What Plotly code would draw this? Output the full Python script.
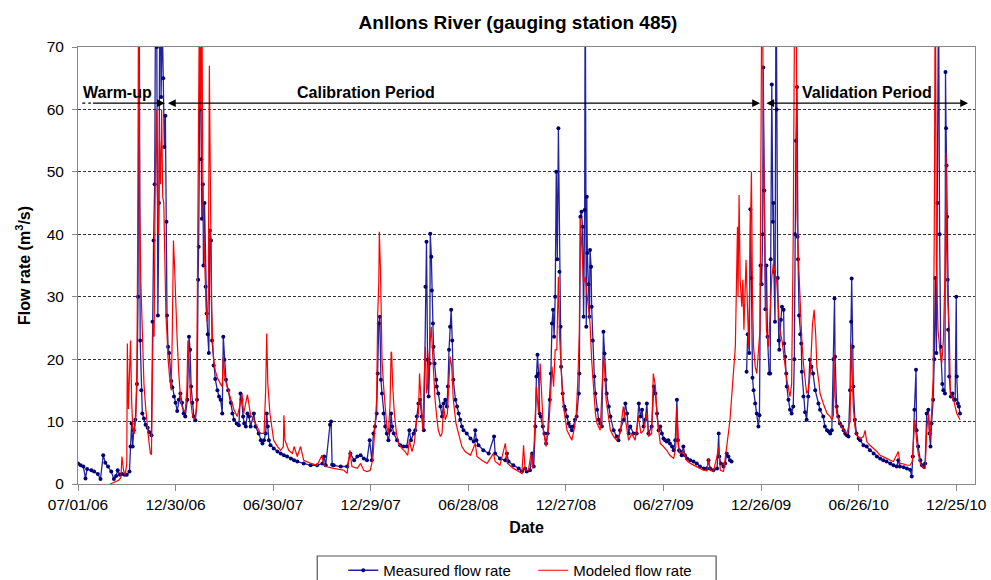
import pandas as pd
import plotly.graph_objects as go

# ---------------- data ----------------
start_date = "2006-07-01"

# (day offset from 07/01/06, measured flow m3/s); None = missing record
measured_points = [
 (0,3.3),(5,3.0),(10,2.8),(14,0.9),(17,2.4),(25,2.2),(30,2.0),(37,1.6),(42,0.8),(47,4.6),(51,3.4),(56,2.8),(62,2.0),(67,0.8),(71,1.3),(74,2.2),(78,1.5),(82,1.6),(87,1.5),(91,1.5),(96,2.0),(98,6.0),(100,9.7),(102,6.0),(104,8.6),(107,10.3),(110,16),(112,30),(114,85),(116,23),(118,15),(120,11.3),(123,10.5),(126,9.5),(130,9.0),(133,8.3),(137,7.8),
 (139,26),(141,39),(143,48),(145,85),(147,70),(149,27),(151,45),(153,90),(155,62),(157,75),(159,65),(161,54),(163,59),(165,42),(166,27),(168,22),(170,21),(174,16.5),(176,15.5),(179,14),(182,13),(185,11.7),(188,13.5),(191,14.5),(194,13),(197,11.3),(200,10.8),(204,13.5),(207,23.6),(209,21.5),(211,15.6),(213,13),(216,10.8),(219,10.2),(222,13.5),(224,32.7),(225,38),(227,60),(228,90),(230,52),(231,42.5),(233,48),(234,35),(236,45),(238,31.6),(240,27.3),(242,24),(244,21),(246,40.6),(248,39),(250,23),(253,19),(256,16.8),(260,15),(263,14),(266,13.5),(269,11.3),(271,23.6),(273,19.9),(276,16.7),(280,15),(285,13),(288,11.3),(291,10.3),(296,9.7),(300,9.4),(303,14.5),(305,13.5),(308,10.8),(310,9.7),(313,9.2),(316,11.3),(319,10.8),(322,9.2),(328,11.3),(331,9.2),(337,8.1),(341,7.0),(344,6.5),(347,7.0),(350,8.1),(352,11.3),(354,9.2),(356,7.0),(359,6.2),(365,5.7),(372,5.2),(378,4.9),(384,4.6),(390,4.4),(397,4.1),(403,3.8),(409,3.6),(421,3.3),(434,3.0),(446,3.0),(456,3.3),(459,4.4),(462,3.0),(470,9.5),(472,10.0),(474,3.1),(477,3.0),(490,2.8),(502,2.8),(508,4.9),(515,3.8),(521,4.4),(527,4.6),(533,4.1),(539,3.8),(544,7.0),
 (548,3.8),(551,8.1),(554,9.2),(557,11.3),(559,17.7),(561,25.7),(563,26.8),(565,16.7),(567,14.5),(570,11.3),(573,9.2),(576,8.1),(579,7.0),(582,8.6),(584,11.3),(586,9.2),(589,8.1),(595,7.0),(601,6.2),(607,6.0),(613,6.0),(618,8.6),(621,7.0),(626,8.1),(629,8.6),(632,10.8),(635,12.9),(638,13.5),(641,10.8),(645,8.6),(648,31.6),(650,38.8),(652,19.9),(654,14),(656,19.3),(657,40.1),(659,36.4),(660,31),(662,25.7),(663,22),(665,19.3),(668,16.7),(669,15.6),(672,14.5),(676,12.4),(679,10.8),(682,12.9),(685,13.5),(688,12.4),(690,15.6),(692,21.5),(694,25.2),(696,27.9),(698,23),(700,16.7),(704,13.5),(707,12.4),(710,11.3),(713,10.3),(716,9.2),(719,8.6),(725,8.1),(732,7.3),(738,6.8),(741,8.6),(743,7.0),(747,6.2),(756,5.4),(766,4.9),(776,7.6),(778,4.9),(787,4.1),(797,3.8),(800,4.9),(803,3.6),(812,3.0),(822,2.5),(828,2.0),(834,2.5),(837,2.0),(843,2.2),(847,4.9),(850,2.8),(853,9.2),(855,17.2),(857,20.7),(859,17.7),(861,11.3),(863,10.8),(867,9.2),(870,8.1),(873,6.5),(876,8.1),(880,13.5),(882,17.7),(884,25.7),(886,27.9),(888,23.6),(890,30),(892,50),(894,36),(896,57),(898,34),(900,25.2),(901,18.8),(904,14.5),(907,12.4),(909,11.9),(912,10.8),(915,9.7),(918,9.2),(921,8.6),(924,9.2),(927,10.3),(930,10.8),(934,14.5),(935,17.7),(937,42.8),(939,43.6),(941,41.2),(943,26.8),(945,43.9),(946,85),(948,25.2),(949,46),(950,37),(952,32),(954,26.8),(955,37.5),(957,34.8),(958,28.4),(960,23),(963,17.2),(965,14.5),(968,11.9),(971,10.3),(974,9.7),(977,9.2),(980,24.4),(982,20.9),(984,16.7),(986,14.5),(990,12.4),(993,10.8),(999,8.6),(1005,7.6),(1008,7.0),(1011,8.6),(1018,10.3),(1021,12.9),(1024,11.3),(1027,8.1),(1030,9.2),(1036,8.1),(1042,8.1),(1046,12.9),(1049,10.8),(1052,11.9),(1055,9.2),(1058,10.3),(1061,12.9),(1064,8.1),(1070,9.2),(1074,15.6),(1077,14.5),(1080,11.3),(1083,8.6),
 (1086,9.2),(1089,8.1),(1092,7.3),(1095,7.0),(1098,6.8),(1101,7.0),(1104,6.5),(1108,6.0),(1111,5.4),(1114,7.0),(1117,13.5),(1119,7.0),(1121,5.4),(1123,5.2),(1126,4.6),(1129,6.0),(1132,4.6),(1136,4.1),(1142,3.8),(1148,3.6),(1154,3.3),(1160,2.8),(1167,2.5),(1173,2.5),(1176,3.8),(1179,2.5),(1185,2.2),(1192,2.5),(1195,8.1),(1196,4.4),(1199,3.3),(1204,2.8),(1207,3.3),(1210,4.9),(1213,4.4),(1216,3.8),(1219,3.6),(1230,None),
 (1247,18),(1249,24),(1252,21),(1254,44),(1256,33),(1258,17),(1260,15),(1263,12.9),(1266,11.3),(1269,9.2),(1271,11),(1273,35),(1275,32),(1277,40),(1278,66.7),(1280,47),(1282,28),(1284,35),(1286,23.6),(1289,17.7),(1291,17.7),(1292,36),(1294,64),(1296,42),(1297,45),(1298,34),(1300,26),(1302,85),(1303,60),(1305,33),(1307,23),(1308,21.5),(1311,26.3),(1313,28.4),(1316,27.9),(1317,22.5),(1319,20.4),(1321,17.7),(1322,15.6),(1325,13.5),(1328,11.9),(1331,11.3),(1334,12.4),(1336,20),(1337,40),(1339,55),(1341,63.6),(1342,39.6),(1343,36),(1345,27),(1347,24),(1349,22.5),(1350,18),(1353,14),(1356,11.5),(1359,10.3),(1362,14),(1365,19.9),(1368,18.8),(1371,17.7),(1375,15),(1381,12.9),(1384,11.9),(1390,10.8),(1393,9.2),(1397,8.6),(1400,8.4),(1403,8.1),(1406,8.6),(1409,20),(1411,29.7),(1412,20.4),(1415,12.4),(1418,10.8),(1421,9.7),(1425,9.2),(1428,8.6),(1431,8.1),(1434,7.8),(1437,7.6),(1440,15),(1442,26),(1443,32.9),(1445,22),(1446,15.6),(1449,10.3),(1452,8.1),(1456,7.3),(1459,7.0),(1465,6.2),(1471,6.0),(1477,5.4),(1484,4.9),(1490,4.4),(1496,4.1),(1502,3.8),(1508,3.6),(1515,3.3),(1521,3.0),(1527,2.8),(1530,3.8),(1533,2.8),(1540,2.7),(1546,2.5),(1552,2.3),(1555,1.2),(1557,4.4),(1560,11.9),(1563,18.3),(1564,8.6),(1567,6.0),(1571,3.8),(1574,3.0),(1577,2.8),(1580,3.3),(1583,11.3),(1586,11.9),(1588,8.1),(1590,6.0),(1592,9.7),(1595,13.5),(1597,20),(1599,33),(1601,21),(1603,45),(1605,80),(1607,40),(1609,22),(1612,16),(1614,15),(1617,14.5),(1618,66),(1619,57),(1620,51),(1621,42.8),(1622,32.7),(1623,24.7),(1625,17.2),(1628,14),(1631,14.5),(1634,13.5),(1636,13.5),(1638,30),(1639,17.2),(1641,12.9),(1643,12.4),(1645,11.3),
]

# (day offset from 07/01/06, modeled flow m3/s)
modeled_points = [
 (60,0.0),(70,0.4),(76,0.6),(80,1.0),(82,4.4),(85,2.2),(88,1.4),(91,3.3),(92,22.5),(94,12),(96,19.3),(98,23),(100,13.5),(102,9),(105,8),(108,11),(110,20),(112,50),(113,90),(115,45),(117,33),(120,24),(123,16),(126,12.4),(129,9.2),(132,7.0),(135,4.9),(137,4.7),
 (140,25.7),(142,23.6),(144,48),(146,60),(148,47),(150,40),(152,55),(154,48),(156,60),(158,46),(160,45),(162,33),(164,27),(166,24),(168,20),(171,17),(174,15),(176,25),(178,39),(180,35),(182,29.5),(185,23),(188,17.7),(191,14),(194,12.4),(197,11.9),(200,11.5),(203,15),(205,23),(207,19.9),(210,13.5),(213,11.3),(216,10.3),(219,10.8),(221,12),(223,35),(225,65),(227,85),(229,60),(231,80),(233,45),(235,38),(237,32),(239,28),(241,26),(243,30),(245,67),(247,40),(249,28.4),(251,23),(253,20),(256,18.2),(260,17),(266,16),(269,15.6),(271,20.4),(274,17),(278,15.6),(285,13.5),(291,11.9),(297,10.8),(303,12.9),(306,14.5),(309,11.3),(316,14.3),(319,12.4),(322,11),(328,10.3),(334,9.2),(340,8.1),(347,8.1),(350,15),(352,24.1),(354,16.1),(358,11.3),(362,8.6),(365,7.0),(372,6.0),(378,5.4),(383,6.0),(384,11),(386,7.0),(393,5.4),(400,4.9),(403,6.0),(409,4.4),(415,6.0),(421,3.8),(434,3.3),(446,3.0),(455,4.6),(458,3.2),(462,2.8),(477,2.5),(496,2.2),(502,1.7),(507,5.4),(511,2.8),(521,2.5),(527,3.3),(533,2.2),(539,2.0),(545,2.2),
 (550,4.0),(554,9.2),(557,13.5),(559,27.3),(561,32.1),(562,40.4),(564,34.8),(566,25.2),(567,19.9),(570,15.6),(573,12.4),(576,9.2),(579,8.1),(582,12.9),(584,21.2),(585,21),(587,15.6),(590,11.3),(594,8.1),(598,6.5),(604,5.7),(610,5.2),(615,4.6),(618,7.0),(623,5.2),(627,6.5),(632,10.3),(635,11.3),(637,17.7),(640,11.9),(643,8.6),(646,17.7),(648,22),(650,14.5),(652,15.6),(654,19.9),(657,23),(659,25.2),(661,21.5),(663,17.7),(666,13.5),(669,10.8),(672,8.6),(676,7.6),(679,8.1),(682,12.4),(685,10.3),(689,11.3),(692,17.2),(694,20.4),(697,18.8),(700,13.5),(705,9.7),(710,8.1),(716,6.0),(722,5.2),(732,4.6),(741,6.5),(744,4.4),(753,3.8),(763,3.3),(775,4.9),(778,3.6),(787,3.0),(797,6.5),(801,3.3),(812,2.5),(822,2.0),(828,1.7),(831,6.2),(834,2.2),(840,2.2),(845,4.9),(848,2.5),(851,7.0),(855,15.6),(859,11.3),(862,19.3),(865,13.5),(868,8.6),(873,6.0),(878,9.2),(881,13.5),(884,18.8),(887,15.6),(890,21.5),(893,21.5),(896,33.2),(898,24.1),(901,18.8),(904,13.5),(909,10.3),(912,8.6),(915,8.1),(921,7.0),(925,8.6),(929,10.8),(932,16.1),(935,24.1),(937,42.6),(940,37.5),(942,34.8),(943,32.1),(946,33.2),(949,30.6),(952,29),(955,25.7),(958,19.9),(962,14.5),(965,11.3),(968,9.7),(974,8.6),(980,20.4),(982,18.8),(985,13.5),(990,10.3),(993,8.6),(999,7.6),(1005,7.0),(1011,8.1),(1017,12.4),(1021,10.3),(1027,7.0),(1033,8.1),(1039,7.0),(1045,10.8),(1050,8.1),(1055,8.6),(1061,11.3),(1064,7.6),(1070,8.1),(1073,17.7),(1077,15.6),(1080,10.8),
 (1086,6.5),(1092,6.0),(1098,5.4),(1104,4.6),(1111,4.1),(1115,6.0),(1117,12.4),(1120,6.0),(1123,4.9),(1129,5.2),(1135,3.8),(1142,3.3),(1148,3.0),(1154,2.8),(1160,2.5),(1167,2.2),(1173,2.1),(1176,4.1),(1179,2.2),(1185,2.0),(1191,4.1),(1195,6.0),(1198,2.2),(1204,2.0),(1209,6.0),(1213,8.1),(1216,10.3),(1219,13.5),(1222,17.7),(1226,22),(1230,41.2),(1231,30),(1233,46.3),(1235,32.7),(1238,28.4),(1240,32.7),(1242,24.7),(1246,35.9),(1249,27.3),(1251,22),(1254,40),(1256,50),(1258,30),(1260,22),(1263,18.8),(1266,17.7),(1272,24.7),(1274,50),(1276,90),(1278,60),(1280,40),(1282,32.7),(1284,24.7),(1288,22),(1294,33.2),(1297,35.3),(1300,33.7),(1303,32.7),(1306,28.4),(1309,24.7),(1313,23),(1316,20.9),(1319,18.8),(1322,16.7),(1328,14),(1331,16),(1334,40),(1336,85),(1338,100),(1340,70),(1341,43.4),(1344,35.3),(1347,28.4),(1350,23),(1353,19.3),(1356,16.7),(1359,14.5),(1362,15),(1366,18),(1370,25.7),(1373,27.9),(1376,23.7),(1378,18.8),(1382,16.2),(1384,14.5),(1390,12.9),(1397,11.3),(1403,10.8),(1406,10.3),(1409,11),(1410,20.9),(1412,14),(1415,11.3),(1421,9.7),(1428,8.6),(1434,8.1),(1440,10),(1442,22.5),(1446,12.4),(1449,9.2),(1452,7.8),(1459,7.3),(1465,7.6),(1468,8.6),(1471,6.8),(1477,6.2),(1484,5.7),(1490,5.2),(1496,4.6),(1502,4.4),(1508,4.1),(1515,3.8),(1521,3.6),(1530,5.2),(1533,3.3),(1540,3.2),(1546,3.0),(1552,3.0),(1556,3.6),(1559,8.1),(1561,10.3),(1564,7.0),(1567,4.9),(1571,3.3),(1577,2.5),(1580,2.5),(1583,8.6),(1586,11.3),(1589,7.0),(1592,11.3),(1595,17),(1597,40),(1599,85),(1601,35.3),(1604,24.7),(1608,20.9),(1611,19.3),(1614,23),(1617,33.7),(1619,53),(1620,38),(1622,30),(1625,24.7),(1627,14.5),(1633,13.5),(1636,12.4),(1639,11.3),(1642,10.8),(1645,10.3),
]

tick_labels = ["07/01/06", "12/30/06", "06/30/07", "12/29/07", "06/28/08",
               "12/27/08", "06/27/09", "12/26/09", "06/26/10", "12/25/10"]
y_ticks = [0, 10, 20, 30, 40, 50, 60, 70]

# study periods (start, end) and label
warmup_period = ("2006-07-26", "2006-12-10")
calibration_period = ("2006-12-13", "2009-12-24")
validation_period = ("2010-01-02", "2011-01-16")
period_label_dates = {"Warm-up": "2006-09-12",
                      "Calibration Period": "2007-12-20",
                      "Validation Period": "2010-07-11"}
period_arrow_level = 61
period_label_level = 62.7
x_range = ("2006-07-01", "2011-01-29")

# ---------------- build ----------------
start = pd.Timestamp(start_date)
m_x = [start + pd.Timedelta(days=d) for d, _ in measured_points]
m_y = [v for _, v in measured_points]
s_x = [start + pd.Timedelta(days=d) for d, _ in modeled_points]
s_y = [v for _, v in modeled_points]
tick_vals = list(pd.to_datetime(tick_labels, format="%m/%d/%y"))

FONT = "Liberation Sans, Arial, sans-serif"

fig = go.Figure()
fig.add_trace(go.Scatter(
    x=m_x, y=m_y, mode="lines+markers", name="Measured flow rate",
    line=dict(color="rgb(35,35,160)", width=1.3),
    marker=dict(color="rgb(0,0,120)", size=4, symbol="circle"),
    connectgaps=False))
fig.add_trace(go.Scatter(
    x=s_x, y=s_y, mode="lines", name="Modeled flow rate",
    line=dict(color="rgb(255,0,0)", width=1.2)))

annotations = []
for label, d in period_label_dates.items():
    annotations.append(dict(x=d, y=period_label_level, xref="x", yref="y",
                            text="<b>%s</b>" % label, showarrow=False,
                            font=dict(family=FONT, size=16, color="black"),
                            xanchor="center", yanchor="middle"))

def arrow(period, both):
    return dict(x=period[1], y=period_arrow_level, ax=period[0], ay=period_arrow_level,
                xref="x", yref="y", axref="x", ayref="y", text="",
                showarrow=True, arrowhead=2, arrowsize=1.3, arrowwidth=1.2,
                arrowcolor="black", arrowside="end+start" if both else "end",
                startarrowhead=2, startarrowsize=1.3, standoff=0, startstandoff=0)

annotations.append(arrow(warmup_period, False))
annotations.append(arrow(calibration_period, True))
annotations.append(arrow(validation_period, True))

shapes = [
    # dashed lead-in of the warm-up arrow
    dict(type="line", xref="x", yref="y", x0="2006-07-09", x1="2006-07-25",
         y0=period_arrow_level, y1=period_arrow_level,
         line=dict(color="black", width=1.2, dash="3px,3px")),
    # legend frame
    dict(type="rect", xref="paper", yref="paper", x0=0.2667, x1=0.7114,
         y0=-0.1648, y1=-0.30, line=dict(color="#555555", width=1.2),
         fillcolor="rgba(0,0,0,0)", layer="above"),
]

fig.update_layout(
    width=991, height=580,
    margin=dict(l=78, r=16, t=47, b=96, autoexpand=False),
    paper_bgcolor="white", plot_bgcolor="white",
    font=dict(family=FONT, color="black"),
    title=dict(text="<b>Anllons River (gauging station 485)</b>",
               x=0.5227, xanchor="center", xref="container",
               y=0.962, yanchor="middle", yref="container",
               font=dict(family=FONT, size=19, color="black")),
    xaxis=dict(type="date", range=list(x_range), tickvals=tick_vals, ticktext=tick_labels,
               showgrid=False, zeroline=False, showline=True, linecolor="#888888",
               linewidth=1, mirror=True, ticks="outside", ticklen=6, tickcolor="#888888",
               tickfont=dict(family=FONT, size=15.5, color="black"),
               title=dict(text="<b>Date</b>", font=dict(family=FONT, size=16), standoff=10),
               automargin=False),
    yaxis=dict(range=[0, 70], tickvals=y_ticks, showgrid=True, gridcolor="#333333",
               gridwidth=1, griddash="3px,2px", zeroline=False, showline=True,
               linecolor="#888888", linewidth=1, mirror=True, ticks="outside", ticklen=5,
               tickcolor="#888888", ticklabelstandoff=5,
               tickfont=dict(family=FONT, size=15.5, color="black"),
               title=dict(text="<b>Flow rate (m<sup>3</sup>/s)</b>",
                          font=dict(family=FONT, size=16), standoff=12),
               automargin=False),
    legend=dict(orientation="h", x=0.2957, xanchor="left", y=-0.1602, yanchor="top",
                font=dict(family=FONT, size=15, color="black"),
                bgcolor="rgba(0,0,0,0)", borderwidth=0,
                entrywidth=145, entrywidthmode="pixels", itemwidth=30),
    showlegend=True,
    annotations=annotations,
    shapes=shapes,
)

fig.write_html("out.html", config={"displayModeBar": False})
